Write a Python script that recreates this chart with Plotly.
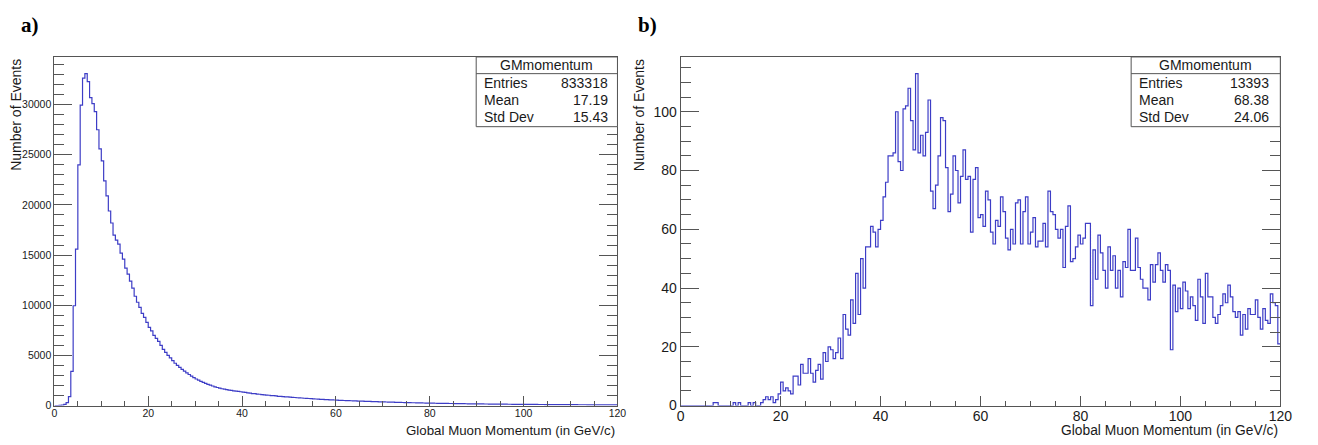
import plotly.graph_objects as go
import numpy as np

W, H = 1318, 445

# Histogram binning (GeV/c)
LO, HI, NBINS = 0.0, 120.0, 240

# GMmomentum counts per bin, panel a)
counts_a = [
    0, 5, 20, 50, 110, 290, 900, 3400, 9950, 15600,
    24000, 29950, 32650, 33100, 32300, 30700, 30100, 29300, 27500, 25600,
    24400, 22400, 20900, 19400, 18200, 17000, 16500, 16100, 15200, 14600,
    13700, 13100, 12400, 11700, 10900, 10300, 9800, 9200, 8800, 8300,
    7800, 7450, 7000, 6700, 6400, 6000, 5600, 5300, 5000, 4750,
    4480, 4220, 4000, 3800, 3600, 3430, 3270, 3100, 2940, 2780,
    2650, 2530, 2420, 2310, 2210, 2120, 2030, 1950, 1870, 1800,
    1730, 1680, 1640, 1590, 1550, 1510, 1470, 1440, 1410, 1380,
    1350, 1320, 1270, 1250, 1200, 1190, 1150, 1130, 1100, 1070,
    1050, 1030, 990, 985, 960, 925, 915, 890, 875, 860,
    845, 815, 805, 780, 765, 755, 730, 715, 705, 690,
    665, 655, 640, 625, 615, 600, 585, 575, 560, 555,
    540, 525, 520, 505, 500, 485, 480, 465, 462, 450,
    440, 438, 425, 415, 410, 402, 392, 388, 378, 372,
    362, 358, 348, 342, 336, 328, 322, 316, 308, 304,
    296, 291, 284, 280, 273, 270, 262, 259, 252, 249,
    243, 239, 232, 229, 225, 219, 216, 211, 208, 205,
    200, 197, 192, 190, 185, 183, 179, 176, 172, 170,
    167, 163, 161, 158, 155, 153, 151, 147, 146, 143,
    141, 138, 136, 134, 132, 129, 128, 126, 123, 122,
    120, 118, 116, 115, 112, 110, 109, 107, 106, 104,
    102, 100, 99, 98, 96, 95, 93, 92, 91, 89,
    88, 87, 86, 84, 83, 82, 81, 80, 78, 78,
    77, 76, 74, 74, 73, 72, 71, 70, 69, 68,
]

# GMmomentum counts per bin, panel b)
counts_b = [
    0, 0, 0, 0, 0, 0, 0, 0, 0, 0,
    0, 0, 0, 1, 1, 0, 0, 0, 0, 0,
    0, 1, 0, 1, 0, 0, 0, 1, 0, 1,
    0, 0, 1, 2, 3, 2, 3, 1, 2, 4,
    8, 5, 6, 5, 4, 10, 10, 7, 14, 11,
    11, 16, 11, 8, 12, 14, 9, 18, 15, 20,
    19, 16, 18, 23, 16, 31, 26, 24, 36, 28,
    45, 31, 50, 40, 54, 54, 61, 59, 54, 60,
    63, 71, 76, 85, 85, 86, 100, 83, 80, 101,
    102, 108, 97, 87, 113, 86, 92, 85, 93, 104,
    73, 67, 75, 85, 98, 97, 81, 66, 72, 85,
    80, 69, 78, 87, 77, 78, 59, 77, 81, 64,
    65, 61, 73, 70, 59, 55, 63, 61, 71, 66,
    57, 53, 60, 55, 69, 70, 55, 66, 71, 55,
    59, 64, 54, 56, 56, 62, 54, 73, 66, 65,
    60, 57, 60, 47, 61, 68, 49, 50, 54, 58,
    55, 57, 62, 62, 34, 53, 43, 58, 52, 46,
    40, 54, 46, 51, 40, 46, 37, 49, 47, 60,
    46, 46, 57, 47, 43, 40, 40, 36, 48, 42,
    48, 52, 46, 42, 48, 46, 19, 41, 32, 40,
    33, 42, 39, 33, 37, 34, 29, 43, 37, 28,
    45, 37, 37, 30, 28, 31, 34, 38, 35, 41,
    37, 32, 30, 32, 24, 31, 26, 33, 31, 31,
    36, 30, 26, 33, 29, 28, 38, 35, 34, 21,
]

stat_labels = ["Entries", "Mean", "Std Dev"]
stats_a = ["833318", "17.19", "15.43"]
stats_b = ["13393", "68.38", "24.06"]
hist_name = "GMmomentum"
x_title = "Global Muon Momentum (in GeV/c)"
y_title = "Number of Events"

assert len(counts_a) == NBINS and len(counts_b) == NBINS
edges = np.linspace(LO, HI, NBINS + 1)

LINE = "#3d3dc6"
AX = "#555555"
TXT = "#1a1a1a"
SANS = "Liberation Sans, Arial, sans-serif"


def px(x):
    return x / W


def py(y):
    return 1 - y / H


# frame boxes in pixels: (left, top, right, bottom)
frames = {
    "a": (51, 58, 621, 413),
    "b": (685, 58, 1292, 413),
}

fig = go.Figure()


def step_trace(counts, xa, ya):
    ys = list(counts) + [counts[-1]]
    return go.Scatter(
        x=edges, y=ys, mode="lines", line=dict(color=LINE, width=1.2, shape="hv"),
        xaxis=xa, yaxis=ya, showlegend=False, hoverinfo="skip",
    )


fig.add_trace(step_trace(counts_a, "x", "y"))
fig.add_trace(step_trace(counts_b, "x2", "y2"))


def xaxis_cfg(frame, font_size, anchor):
    l, t, r, b = frame
    return dict(
        domain=[px(l), px(r)], range=[LO, HI], anchor=anchor,
        showline=True, linecolor=AX, linewidth=1, mirror=True,
        ticks="inside", ticklen=10, tickcolor=AX, tickwidth=1,
        tick0=0, dtick=20, ticklabelstandoff=-2,
        minor=dict(ticks="inside", dtick=5, ticklen=5, tickcolor=AX, tickwidth=1),
        showgrid=False, zeroline=False,
        tickfont=dict(family=SANS, size=font_size, color=TXT),
        fixedrange=True,
    )


def yaxis_cfg(frame, ymax, major, minor, font_size, anchor):
    l, t, r, b = frame
    return dict(
        domain=[py(b), py(t)], range=[0, ymax], anchor=anchor,
        showline=True, linecolor=AX, linewidth=1, mirror="ticks",
        ticks="inside", ticklen=18, tickcolor=AX, tickwidth=1,
        tick0=0, dtick=major, tickformat="d",
        minor=dict(ticks="inside", dtick=minor, ticklen=10, tickcolor=AX, tickwidth=1),
        showgrid=False, zeroline=False,
        tickfont=dict(family=SANS, size=font_size, color=TXT),
        fixedrange=True,
    )


fig.update_layout(
    width=W, height=H, margin=dict(l=0, r=0, t=0, b=0),
    paper_bgcolor="white", plot_bgcolor="white",
    xaxis=xaxis_cfg(frames["a"], 10.5, "y"),
    yaxis=yaxis_cfg(frames["a"], 1.05 * max(counts_a), 5000, 1000, 10.5, "x"),
    xaxis2=xaxis_cfg(frames["b"], 14, "y2"),
    yaxis2=yaxis_cfg(frames["b"], 1.05 * max(counts_b), 20, 5, 14, "x2"),
)

shapes = []
annotations = []


def add_panel_text(frame, tag, tag_x, ytitle_x, title_size, stats_vals, box_left, label_x, value_x):
    l, t, r, b = frame
    # panel tag
    annotations.append(dict(
        x=px(tag_x), y=py(25), xref="paper", yref="paper", xanchor="left", yanchor="middle",
        text=f"<b>{tag}</b>", showarrow=False,
        font=dict(family="Liberation Serif, Times New Roman, serif", size=21, color="black"),
    ))
    # axis titles
    annotations.append(dict(
        x=px(r), y=py(438.5), xref="paper", yref="paper", xanchor="right", yanchor="middle",
        text=x_title, showarrow=False, font=dict(family=SANS, size=title_size, color=TXT),
    ))
    annotations.append(dict(
        x=px(ytitle_x), y=py(t), xref="paper", yref="paper", xanchor="center", yanchor="top",
        text=y_title, textangle=-90, showarrow=False,
        font=dict(family=SANS, size=14, color=TXT),
    ))
    # statistics box
    box_bottom, sep_y = 129, 75
    shapes.append(dict(
        type="rect", xref="paper", yref="paper", layer="above",
        x0=px(box_left), x1=px(r), y0=py(box_bottom), y1=py(t),
        fillcolor="white", line=dict(color=AX, width=1),
    ))
    shapes.append(dict(
        type="line", xref="paper", yref="paper", layer="above",
        x0=px(box_left), x1=px(r), y0=py(sep_y), y1=py(sep_y),
        line=dict(color=AX, width=1),
    ))
    annotations.append(dict(
        x=px((box_left + r) / 2), y=py(66.5), xref="paper", yref="paper",
        xanchor="center", yanchor="middle", text=hist_name, showarrow=False,
        font=dict(family=SANS, size=14, color=TXT),
    ))
    for i, (lab, val) in enumerate(zip(stat_labels, stats_vals)):
        yy = 85 + i * 17.2
        annotations.append(dict(
            x=px(label_x), y=py(yy), xref="paper", yref="paper", xanchor="left",
            yanchor="middle", text=lab, showarrow=False,
            font=dict(family=SANS, size=14, color=TXT),
        ))
        annotations.append(dict(
            x=px(value_x), y=py(yy), xref="paper", yref="paper", xanchor="right",
            yanchor="middle", text=val, showarrow=False,
            font=dict(family=SANS, size=14, color=TXT),
        ))


add_panel_text(frames["a"], "a)", 15, 12, 13.3, stats_a, 478, 484, 613)
add_panel_text(frames["b"], "b)", 640, 643, 13.8, stats_b, 1141, 1147, 1283)

fig.update_layout(shapes=shapes, annotations=annotations)

# page without body margin so the figure sits at the window origin
page_js = (
    "document.body.style.margin='0';"
    "document.body.style.padding='0';"
    "document.documentElement.style.overflow='hidden';"
)
fig.write_html("out.html", post_script=page_js)
